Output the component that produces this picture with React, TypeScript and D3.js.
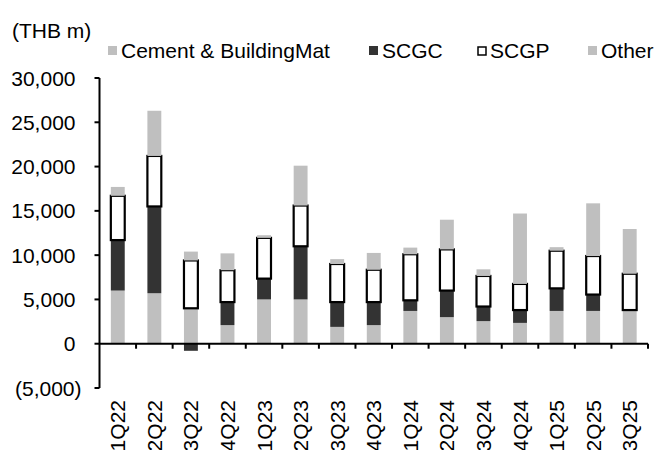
import React, { useEffect, useRef } from "react";
import * as d3 from "d3";

const quarters = ["1Q22", "2Q22", "3Q22", "4Q22", "1Q23", "2Q23", "3Q23", "4Q23", "1Q24", "2Q24", "3Q24", "4Q24", "1Q25", "2Q25", "3Q25"];
const cement = [6000, 5700, 4000, 2100, 5000, 5000, 1900, 2100, 3700, 3000, 2550, 2350, 3700, 3700, 3800];
const scgc = [5700, 9800, -800, 2600, 2350, 6000, 2800, 2600, 1200, 3000, 1650, 1450, 2550, 1850, 0];
const scgp = [5000, 5700, 5400, 3600, 4600, 4600, 4300, 3650, 5200, 4650, 3450, 2950, 4250, 4350, 4100];
const other = [1000, 5100, 1000, 1900, 300, 4500, 550, 1900, 750, 3350, 750, 7950, 400, 5950, 5050];
const yTicks = [-5000, 0, 5000, 10000, 15000, 20000, 25000, 30000];

const seriesNames = ["Cement & BuildingMat", "SCGC", "SCGP", "Other"];

const App = () => {
  const ref = useRef<SVGSVGElement>(null);

  useEffect(() => {
    const width = 657;
    const height = 450;
    const font = "'Liberation Sans', Arial, sans-serif";
    const fs = 21;

    const svg = d3.select(ref.current);
    svg.selectAll("*").remove();
    svg.attr("width", width).attr("height", height);

    const rows = quarters.map((q, i) => ({
      q,
      "Cement & BuildingMat": cement[i],
      SCGC: scgc[i],
      SCGP: scgp[i],
      Other: other[i],
    }));

    const stacked = d3
      .stack<any>()
      .keys(seriesNames)
      .offset(d3.stackOffsetDiverging)(rows);

    const x = d3
      .scaleBand()
      .domain(quarters)
      .range([99.5, 648])
      .paddingInner(0.62)
      .paddingOuter(0.31);

    const y = d3.scaleLinear().domain([-5000, 30000]).range([388, 78]);

    const fills: Record<string, string> = {
      "Cement & BuildingMat": "#bfbfbf",
      SCGC: "#333333",
      SCGP: "#ffffff",
      Other: "#bfbfbf",
    };

    const layers = svg
      .selectAll(".layer")
      .data(stacked)
      .enter()
      .append("g")
      .attr("class", "layer")
      .attr("fill", (d) => fills[d.key])
      .attr("stroke", (d) => (d.key === "SCGP" ? "#000" : "none"))
      .attr("stroke-width", 2.2);

    layers
      .selectAll("rect")
      .data((d) => d.filter((p) => p[1] - p[0] !== 0))
      .enter()
      .append("rect")
      .attr("x", (d) => x(d.data.q) as number)
      .attr("width", x.bandwidth())
      .attr("y", (d) => y(Math.max(d[0], d[1])))
      .attr("height", (d) => Math.abs(y(d[0]) - y(d[1])));

    // y axis
    const yAxis = svg.append("g").attr("transform", "translate(99.5,0)");
    yAxis
      .append("line")
      .attr("y1", y(30000))
      .attr("y2", y(-5000))
      .attr("stroke", "#000")
      .attr("stroke-width", 2);
    yAxis
      .selectAll(".tk")
      .data(yTicks)
      .enter()
      .append("line")
      .attr("x1", -5)
      .attr("x2", 0)
      .attr("y1", (d) => y(d))
      .attr("y2", (d) => y(d))
      .attr("stroke", "#000")
      .attr("stroke-width", 2);
    yAxis
      .selectAll(".lb")
      .data(yTicks)
      .enter()
      .append("text")
      .attr("x", (d) => (d < 0 ? -18 : -24))
      .attr("y", (d) => y(d) + 7.5)
      .attr("text-anchor", "end")
      .attr("font-family", font)
      .attr("font-size", fs)
      .attr("fill", "#000")
      .text((d) => (d < 0 ? `(${d3.format(",")(-d)})` : d3.format(",")(d)));

    // x axis on zero line
    const bounds = quarters.map((q) => (x(q) as number) - (x.step() - x.bandwidth()) / 2);
    bounds.push(648);
    svg
      .append("line")
      .attr("x1", 99.5)
      .attr("x2", 648)
      .attr("y1", y(0))
      .attr("y2", y(0))
      .attr("stroke", "#000")
      .attr("stroke-width", 2);
    svg
      .selectAll(".xt")
      .data(bounds.slice(1))
      .enter()
      .append("line")
      .attr("x1", (d) => d)
      .attr("x2", (d) => d)
      .attr("y1", y(0))
      .attr("y2", y(0) + 5)
      .attr("stroke", "#000")
      .attr("stroke-width", 2);

    svg
      .selectAll(".xl")
      .data(quarters)
      .enter()
      .append("text")
      .attr("transform", (d) => `translate(${(x(d) as number) + x.bandwidth() / 2 + 7.5},400) rotate(-90)`)
      .attr("text-anchor", "end")
      .attr("font-family", font)
      .attr("font-size", fs)
      .attr("fill", "#000")
      .text((d) => d);

    svg
      .append("text")
      .attr("x", 12)
      .attr("y", 38)
      .attr("font-family", font)
      .attr("font-size", fs)
      .attr("fill", "#000")
      .text("(THB m)");

    // legend
    const legendX = [108, 369, 477, 588];
    const legend = svg
      .selectAll(".lg")
      .data(seriesNames)
      .enter()
      .append("g")
      .attr("transform", (d, i) => `translate(${legendX[i]},0)`);
    legend
      .append("rect")
      .attr("x", (d) => (d === "SCGP" ? 1 : 0))
      .attr("y", (d) => (d === "SCGP" ? 47 : 46))
      .attr("width", (d) => (d === "SCGP" ? 8 : 9))
      .attr("height", (d) => (d === "SCGP" ? 8 : 9))
      .attr("fill", (d) => fills[d])
      .attr("stroke", (d) => (d === "SCGP" ? "#000" : "none"))
      .attr("stroke-width", 1.5);
    legend
      .append("text")
      .attr("x", 13)
      .attr("y", 58)
      .attr("font-family", font)
      .attr("font-size", fs)
      .attr("fill", "#000")
      .text((d) => d);
  }, []);

  return <svg ref={ref} style={{ position: "absolute", left: 0, top: 0 }}></svg>;
};

export default App;
